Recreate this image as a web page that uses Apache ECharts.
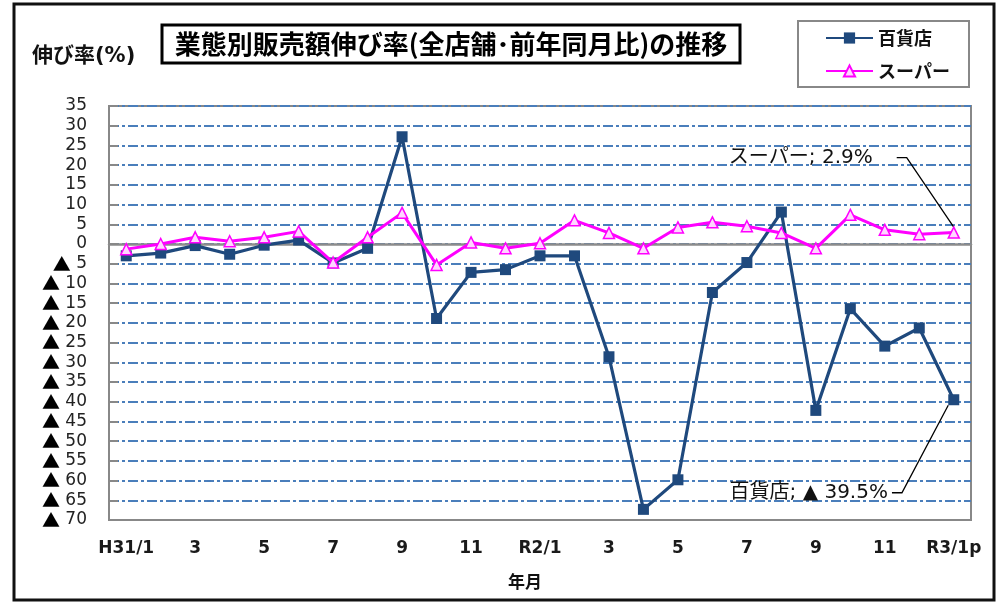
<!DOCTYPE html>
<html>
<head>
<meta charset="utf-8">
<script src="https://cdn.jsdelivr.net/npm/echarts@6/dist/echarts.min.js"></script>
<style>
html,body{margin:0;padding:0;background:#fff;}
#chart{width:1006px;height:604px;}
</style>
</head>
<body>
<div id="chart"></div>
<script>
// ---- data ----
const categories = ['H31/1','2','3','4','5','6','7','8','9','10','11','12',
                    'R2/1','2','3','4','5','6','7','8','9','10','11','12','R3/1p'];
const deptStore = [-3.0,-2.3,-0.4,-2.6,-0.3,1.0,-4.8,-1.1,27.2,-18.9,-7.2,-6.5,
                   -3.0,-3.0,-28.6,-67.3,-59.8,-12.3,-4.7,8.1,-42.2,-16.4,-25.9,-21.3,-39.5];
const supermarket = [-1.3,0.0,1.7,0.7,1.7,3.2,-4.7,1.7,7.9,-5.3,0.4,-1.1,
                     0.2,6.0,2.8,-1.1,4.2,5.5,4.5,2.8,-1.1,7.4,3.6,2.5,2.9];
const seriesNames = ['百貨店','スーパー'];
const yMin = -70, yMax = 35, yStep = 5;
const titleText = '業態別販売額伸び率(全店舗･前年同月比)の推移';
const yAxisName = '伸び率(%)';
const xAxisName = '年月';

function fmtVal(v){ return v < 0 ? '▲ ' + Math.abs(v).toFixed(1) : v.toFixed(1); }
function withLastLabel(arr, name, gap){
  const last = arr.length - 1;
  return arr.map((v,i)=> i===last ? {
    value: v,
    label: {show:true, position:'inside', formatter: '{a|' + name + '; ' + fmtVal(v) + '%}{g|}',
            rich:{
              a:{color:'#111', fontSize:20, fontFamily:"'DejaVu Sans','Noto Sans CJK JP'"},
              g:{width:gap, height:10}
            }},
    labelLine: {show:true, length2: 10, lineStyle:{color:'#000', width:1.3}}
  } : v);
}

const chart = echarts.init(document.getElementById('chart'), null, {renderer:'canvas'});
const option = {
  animation: false,
  backgroundColor: '#fff',
  graphic: [
    {type:'rect', shape:{x:14,y:4,width:980,height:596}, style:{fill:'none', stroke:'#111', lineWidth:3}, z:0},
    {type:'rect', shape:{x:162,y:25,width:578,height:38}, style:{fill:'#fff', stroke:'#000', lineWidth:3}, z:10},
    {type:'text', x:451, y:44, style:{text:titleText, align:'center', verticalAlign:'middle',
      font:"bold 26px 'Noto Sans CJK JP'", fill:'#000'}, z:11},
    {type:'text', x:32, y:57, style:{text:yAxisName, align:'left', verticalAlign:'middle',
      font:"bold 21px 'DejaVu Sans','Noto Sans CJK JP'", fill:'#111'}, z:11}
  ],
  legend: {
    orient:'vertical', left:798, top:21,
    padding:[7,19,6,27], itemWidth:47, itemHeight:14, itemGap:13,
    borderColor:'#888', borderWidth:2, backgroundColor:'#fff',
    textStyle:{fontSize:18, fontWeight:'bold', color:'#111', lineHeight:20, fontFamily:"'Noto Sans CJK JP'"},
    data: seriesNames
  },
  grid: {left:109, right:35, top:106, bottom:84, show:true, borderColor:'#888', borderWidth:2, backgroundColor:'#fff'},
  xAxis: [
    {type:'category', data:categories, boundaryGap:true,
     axisLine:{onZero:false, lineStyle:{color:'#888', width:2}},
     axisTick:{show:false},
     axisLabel:{interval:1, margin:20, fontSize:17, fontWeight:'bold', color:'#1a1a1a', fontFamily:"'DejaVu Sans'"},
     name:xAxisName, nameLocation:'middle', nameGap:53,
     nameTextStyle:{fontSize:17, fontWeight:'bold', color:'#111', fontFamily:"'Noto Sans CJK JP'", padding:[0,30,0,0]}},
    {type:'category', data:categories, boundaryGap:true, position:'bottom',
     axisLine:{show:true, onZero:true, lineStyle:{color:'#8c8c8c', width:2.5}},
     axisTick:{show:false}, axisLabel:{show:false}, splitLine:{show:false}}
  ],
  yAxis: {
    type:'value', min:yMin, max:yMax, interval:yStep,
    axisLine:{show:true, lineStyle:{color:'#888', width:2}},
    axisTick:{show:true, inside:true, length:9, lineStyle:{color:'#888', width:2}},
    axisLabel:{margin:22, fontSize:17, color:'#222', fontFamily:"'DejaVu Sans','Noto Sans CJK JP'",
      formatter: v => v < 0 ? '{t|▲} ' + Math.abs(v) : String(v),
      rich:{t:{fontSize:18, fontFamily:"'Noto Sans CJK JP'", color:'#000'}}},
    splitLine:{show:true, lineStyle:{color:'#4a7ebb', width:2.2, type:[10,3,3,3]}}
  },
  series: [
    {name:seriesNames[0], type:'line', xAxisIndex:0, data:withLastLabel(deptStore, seriesNames[0], 8),
     symbol:'rect', symbolSize:11, z:3,
     lineStyle:{color:'#1F497D', width:3.2}, itemStyle:{color:'#1F497D'},
     labelLayout: p => p.dataIndex === deptStore.length-1 ? {dx:-141, dy:93} : {}},
    {name:seriesNames[1], type:'line', xAxisIndex:0, data:withLastLabel(supermarket, seriesNames[1], 48),
     symbol:'triangle', symbolSize:11, z:4,
     lineStyle:{color:'#FF00FF', width:3}, itemStyle:{color:'#ffd6ff', borderColor:'#FF00FF', borderWidth:1.5},
     labelLayout: p => p.dataIndex === supermarket.length-1 ? {dx:-129, dy:-75} : {}}
  ]
};
chart.setOption(option);
</script>
</body>
</html>
